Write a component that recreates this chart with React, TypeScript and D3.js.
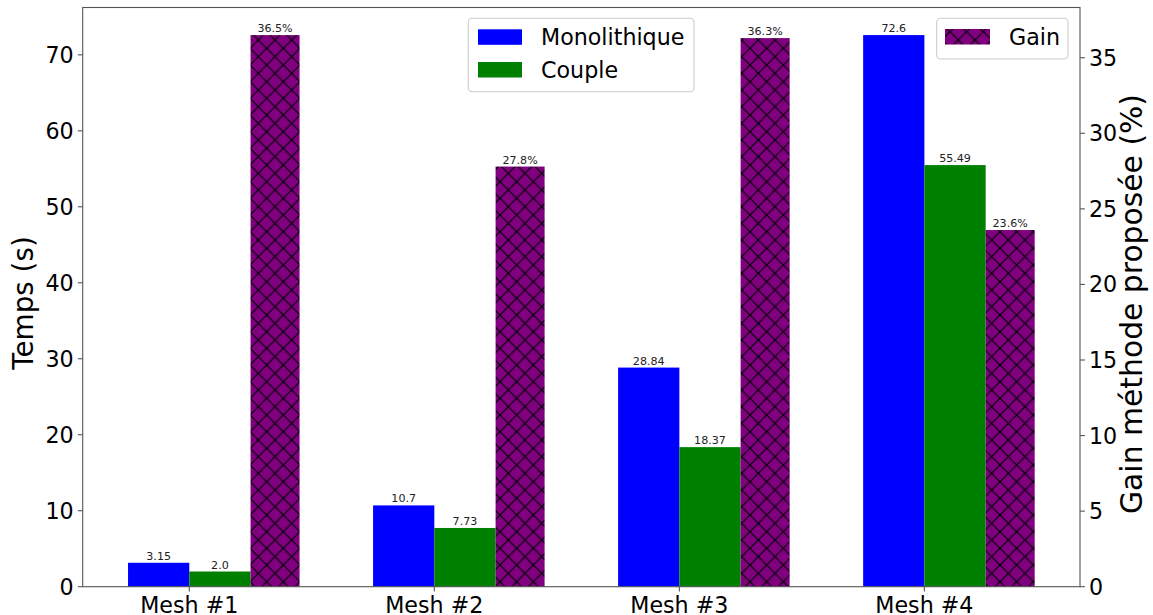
import React from "react";
import * as d3 from "d3";

const categories = ["Mesh #1", "Mesh #2", "Mesh #3", "Mesh #4"];
const monolithique = [3.15, 10.7, 28.84, 72.6];
const couple = [2.0, 7.73, 18.37, 55.49];
const gain = [36.5, 27.8, 36.3, 23.6];
const monoLabels = ["3.15", "10.7", "28.84", "72.6"];
const coupleLabels = ["2.0", "7.73", "18.37", "55.49"];
const gainLabels = ["36.5%", "27.8%", "36.3%", "23.6%"];
const leftTicks = [0, 10, 20, 30, 40, 50, 60, 70];
const rightTicks = [0, 5, 10, 15, 20, 25, 30, 35];

const W = 1153;
const H = 615;
const L = 82.7, R = 1080, T = 7.5, B = 586.7;
const FONT = "DejaVu Sans, sans-serif";
const SPINE = "#555";
const TICKFS = 22.2;

export default function App() {
  const x = d3.scaleLinear().domain([-0.435, 3.635]).range([L, R]);
  const yL = d3.scaleLinear().domain([0, d3.max(monolithique)! * 1.05]).range([B, T]);
  const yR = d3.scaleLinear().domain([0, d3.max(gain)! * 1.05]).range([B, T]);
  const bw = 0.25;
  const gw = 0.2;
  const P = 100 / 6;

  return (
    <svg width={W} height={H} style={{ position: "absolute", left: 0, top: 0, background: "#fff" }} fontFamily={FONT}>
      <defs>
        <pattern id="hx" patternUnits="userSpaceOnUse" width={P} height={P} x={0} y={H % P}>
          <rect width={P} height={P} fill="#800080" />
          <path d={`M0,0L${P},${P}M0,${P}L${P},0`} stroke="#000" strokeWidth={1.2} fill="none" />
        </pattern>
      </defs>
      {/* bars */}
      {categories.map((c, i) => (
        <g key={c}>
          <rect x={x(i - bw)} width={x(i) - x(i - bw)} y={yL(monolithique[i])} height={B - yL(monolithique[i])} fill="#0000ff" />
          <rect x={x(i)} width={x(i + bw) - x(i)} y={yL(couple[i])} height={B - yL(couple[i])} fill="#008000" />
          <rect x={x(i + bw)} width={x(i + bw + gw) - x(i + bw)} y={yR(gain[i])} height={B - yR(gain[i])} fill="url(#hx)" />
          <text x={x(i - bw / 2)} y={yL(monolithique[i]) - 3} textAnchor="middle" fontSize={11.1} fill="#222">{monoLabels[i]}</text>
          <text x={x(i + bw / 2)} y={yL(couple[i]) - 3} textAnchor="middle" fontSize={11.1} fill="#222">{coupleLabels[i]}</text>
          <text x={x(i + bw + gw / 2)} y={yR(gain[i]) - 3} textAnchor="middle" fontSize={11.1} fill="#222">{gainLabels[i]}</text>
        </g>
      ))}
      {/* spines */}
      <rect x={L} y={T} width={R - L} height={B - T} fill="none" stroke={SPINE} strokeWidth={1.1} />
      {/* left ticks */}
      {leftTicks.map((t) => (
        <g key={"l" + t}>
          <line x1={L} x2={L - 4.9} y1={yL(t)} y2={yL(t)} stroke={SPINE} strokeWidth={1.1} />
          <text x={L - 9} y={yL(t)} dy="0.36em" textAnchor="end" fontSize={TICKFS} fill="#000">{t}</text>
        </g>
      ))}
      {/* right ticks */}
      {rightTicks.map((t) => (
        <g key={"r" + t}>
          <line x1={R} x2={R + 4.9} y1={yR(t)} y2={yR(t)} stroke={SPINE} strokeWidth={1.1} />
          <text x={R + 9} y={yR(t)} dy="0.36em" textAnchor="start" fontSize={TICKFS} fill="#000">{t}</text>
        </g>
      ))}
      {/* x ticks */}
      {categories.map((c, i) => (
        <g key={"x" + c}>
          <line x1={x(i)} x2={x(i)} y1={B} y2={B + 4.9} stroke={SPINE} strokeWidth={1.1} />
          <text x={x(i)} y={B + 9.8} dy="0.76em" textAnchor="middle" fontSize={TICKFS} fill="#000">{c}</text>
        </g>
      ))}
      {/* axis labels */}
      <text transform={`translate(33.3,303) rotate(-90)`} textAnchor="middle" fontSize={27.8} fill="#000">Temps (s)</text>
      <text transform={`translate(1142,304) rotate(-90)`} textAnchor="middle" fontSize={29.8} fill="#000">Gain méthode proposée (%)</text>
      {/* legend 1 */}
      <rect x={468.3} y={18.3} width={225.7} height={73.4} rx={4} fill="#fff" fillOpacity={0.8} stroke="#ccc" strokeWidth={1.1} />
      <rect x={478} y={29.3} width={44} height={15.5} fill="#0000ff" />
      <text x={541} y={45} fontSize={22.2} fill="#000">Monolithique</text>
      <rect x={478} y={62} width={44} height={15.5} fill="#008000" />
      <text x={541} y={78} fontSize={22.2} fill="#000">Couple</text>
      {/* legend 2 */}
      <rect x={936.7} y={18.3} width={131.3} height={40.7} rx={4} fill="#fff" fillOpacity={0.8} stroke="#ccc" strokeWidth={1.1} />
      <rect x={945} y={29} width={45} height={15.5} fill="url(#hx)" />
      <text x={1009} y={44.5} fontSize={22.2} fill="#000">Gain</text>
    </svg>
  );
}
